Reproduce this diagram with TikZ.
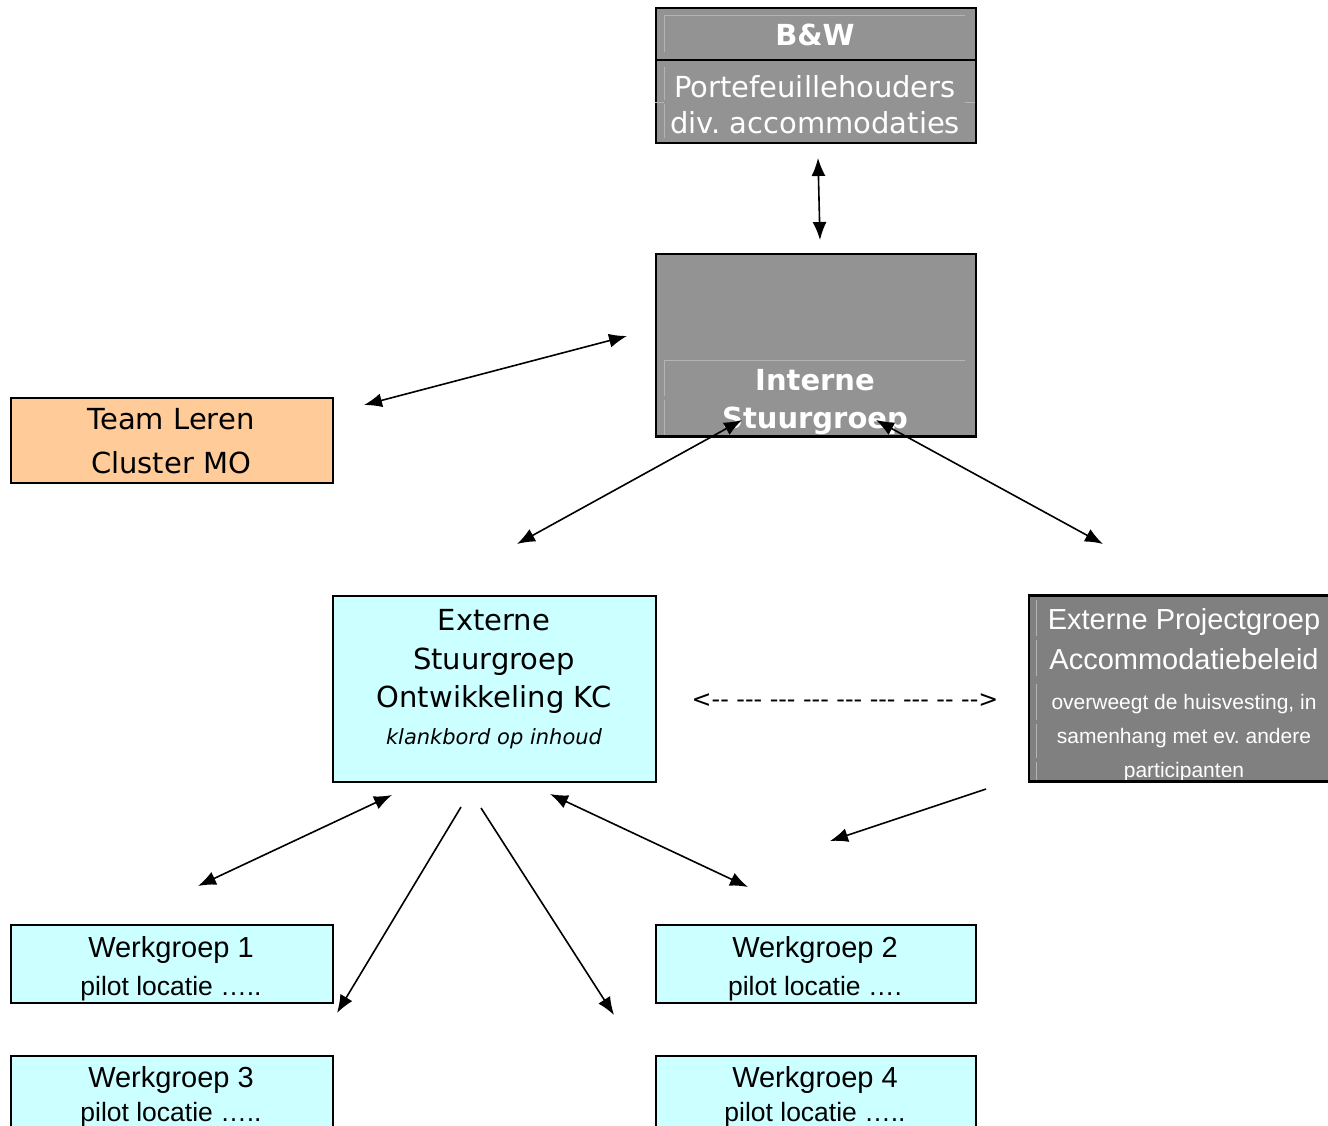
\documentclass[tikz,border=0pt]{standalone}
\usepackage{fontspec}
\setmainfont{DejaVu Sans}
\newfontfamily\arialf{Liberation Sans}
\usetikzlibrary{arrows.meta}
\frenchspacing
\definecolor{boxgray}{HTML}{939393}
\definecolor{darkgray2}{HTML}{808080}
\definecolor{lightcyan}{HTML}{CCFFFF}
\definecolor{peach}{HTML}{FFCC99}
\definecolor{faint}{HTML}{B4B4B4}
\tikzset{
  box/.style={draw=black, line width=2pt, inner sep=0pt, anchor=north west},
  txt/.style={inner sep=0pt, anchor=base},
  wt/.style={txt, text=white},
  big/.style={font=\fontsize{29}{34}\selectfont},
  bigb/.style={font=\fontsize{29}{34}\selectfont\bfseries},
  ar/.style={font=\arialf\fontsize{29}{32}\selectfont},
  arsm/.style={font=\arialf\fontsize{26.5}{30}\selectfont},
  arxs/.style={font=\arialf\fontsize{21}{24}\selectfont},
  conn/.style={line width=1.6pt, {Latex[length=18pt,width=14pt]}-{Latex[length=18pt,width=14pt]}},
  conn1/.style={line width=1.6pt, -{Latex[length=18pt,width=14pt]}},
  fl/.style={draw=faint, line width=0.8pt}
}
\begin{document}
\begin{tikzpicture}[x=1pt,y=-1pt]
\useasboundingbox[fill=white] (0,0) rectangle (1328,1125);

% B&W
\node[box, fill=boxgray, minimum width=320pt, minimum height=135pt] (bw) at (655,7) {};
\draw[line width=2.5pt] (655,60) -- (975,60);
\draw[fl] (664,15) -- (965,15) (664,15) -- (664,52) (664,67) -- (664,100) (664,104) -- (664,138) (655,102) -- (664,102) (965,102) -- (975,102);
\node[wt, bigb] (bw1) at (815,45) {B\&W};
\node[wt, big] (bw2) at (815,97) {Portefeuillehouders};
\node[wt, big] (bw3) at (815,133) {div. accommodaties};

% Interne Stuurgroep
\node[box, fill=boxgray, minimum width=320pt, minimum height=183pt] (is) at (655,253) {};
\draw[fl] (664,360) -- (965,360) (664,360) -- (664,396) (664,400) -- (664,436);
\node[wt, bigb] (is1) at (815,390) {Interne};
\node[wt, bigb] (is2) at (815,428) {Stuurgroep};
\draw[line width=2pt] (655,436) -- (975,436);

% Team Leren
\node[box, fill=peach, minimum width=322pt, minimum height=85pt] (tl) at (10,397) {};
\node[txt, big] (tl1) at (171,429) {Team Leren};
\node[txt, big] (tl2) at (171,473) {Cluster MO};

% Externe Stuurgroep
\node[box, fill=lightcyan, minimum width=323pt, minimum height=186pt] (es) at (332,595) {};
\node[txt, big] (es1) at (494,630) {Externe};
\node[txt, big] (es2) at (494,669) {Stuurgroep};
\node[txt, big] (es3) at (494,707) {Ontwikkeling KC};
\node[txt, font=\fontsize{21}{24}\selectfont\itshape] (es4) at (494,744) {klankbord op inhoud};

% Externe Projectgroep
\node[box, fill=darkgray2, minimum width=320pt, minimum height=186pt] (ep) at (1028,595) {};
\draw[fl] (1036,600) -- (1036,636) (1036,640) -- (1036,676) (1036,684) -- (1036,720) (1036,724) -- (1036,758) (1036,762) -- (1036,781);
\node[wt, font=\arialf\fontsize{29}{34}\selectfont] (ep1) at (1184,629) {Externe Projectgroep};
\node[wt, font=\arialf\fontsize{29}{34}\selectfont] (ep2) at (1184,669) {Accommodatiebeleid};
\node[wt, arxs] (ep3) at (1184,709) {overweegt de huisvesting, in};
\node[wt, arxs] (ep4) at (1184,743) {samenhang met ev. andere};
\node[wt, arxs] (ep5) at (1184,777) {participanten};
\draw[line width=2pt] (1028,595) -- (1340,595) (1028,781) -- (1340,781);

% dashed text arrow
\node[txt, font=\fontsize{23.8}{26}\selectfont] (dash) at (845,707) {<-{}- -{}-{}- -{}-{}- -{}-{}- -{}-{}- -{}-{}- -{}-{}- -{}- -{}->};

% Werkgroepen
\node[box, fill=lightcyan, minimum width=322pt, minimum height=78pt] (w1) at (10,924) {};
\node[txt, ar] (w1a) at (171,957) {Werkgroep 1};
\node[txt, arsm] (w1b) at (171,995) {pilot locatie …..};
\node[box, fill=lightcyan, minimum width=320pt, minimum height=78pt] (w2) at (655,924) {};
\node[txt, ar] (w2a) at (815,957) {Werkgroep 2};
\node[txt, arsm] (w2b) at (815,995) {pilot locatie ….};
\node[box, fill=lightcyan, minimum width=322pt, minimum height=90pt] (w3) at (10,1055) {};
\node[txt, ar] (w3a) at (171,1087) {Werkgroep 3};
\node[txt, arsm] (w3b) at (171,1121) {pilot locatie …..};
\node[box, fill=lightcyan, minimum width=320pt, minimum height=90pt] (w4) at (655,1055) {};
\node[txt, ar] (w4a) at (815,1087) {Werkgroep 4};
\node[txt, arsm] (w4b) at (815,1121) {pilot locatie …..};

% connector end points
\coordinate (a1) at (818,158);
\coordinate (a2) at (820,240);
\coordinate (b1) at (364,405);
\coordinate (b2) at (627,336);
\coordinate (c1) at (742,420);
\coordinate (c2) at (517,544);
\coordinate (d1) at (876,420);
\coordinate (d2) at (1103,544);
\coordinate (e1) at (986,789);
\coordinate (e2) at (830,841);
\coordinate (f1) at (392,795);
\coordinate (f2) at (198,886);
\coordinate (g1) at (461,807);
\coordinate (g2) at (337,1013);
\coordinate (h1) at (481,808);
\coordinate (h2) at (614,1015);
\coordinate (k1) at (550,794);
\coordinate (k2) at (748,887);

\draw[conn] (a1) -- (a2);
\draw[conn] (b1) -- (b2);
\draw[conn] (c1) -- (c2);
\draw[conn] (d1) -- (d2);
\draw[conn1] (e1) -- (e2);
\draw[conn] (f1) -- (f2);
\draw[conn1] (g1) -- (g2);
\draw[conn1] (h1) -- (h2);
\draw[conn] (k1) -- (k2);
\end{tikzpicture}
\end{document}
